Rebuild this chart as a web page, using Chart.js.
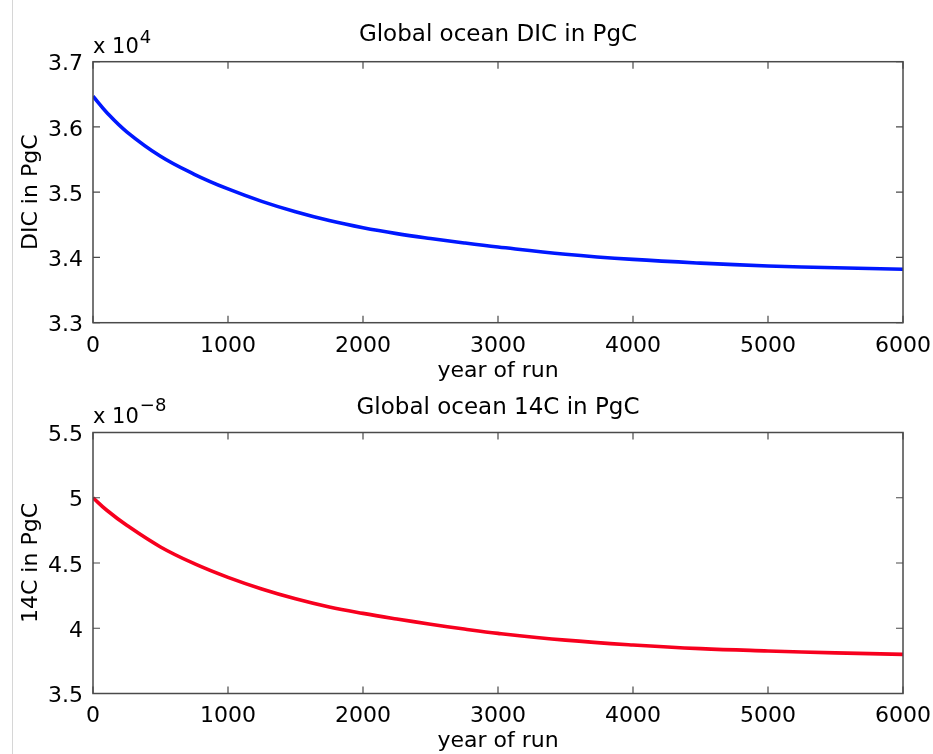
<!DOCTYPE html>
<html>
<head>
<meta charset="utf-8">
<script src="https://cdn.jsdelivr.net/npm/chart.js@4/dist/chart.umd.min.js"></script>
<style>
  html, body { margin:0; padding:0; background:#fff; }
  #wrap { position:relative; width:933px; height:754px; overflow:hidden; background:#fff; }
  #edge { position:absolute; left:12px; top:0; width:1px; height:754px; background:#d6d6d6; }
  .box { position:absolute; left:0; width:933px; }
</style>
</head>
<body>
<div id="wrap">
  <div id="edge"></div>
  <div class="box" style="top:0;height:384px"><canvas id="dic" width="933" height="384"></canvas></div>
  <div class="box" style="top:384px;height:370px"><canvas id="c14" width="933" height="370"></canvas></div>
</div>
<script>
// year of run
const YEARS = [0, 100, 250, 500, 750, 1000, 1250, 1500, 1750, 2000, 2250, 2500, 2750, 3000, 3500, 4000, 4500, 5000, 5500, 6000];
// global ocean DIC, units of 1e4 PgC
const DIC = [3.647, 3.6225, 3.5925, 3.555, 3.5275, 3.505, 3.486, 3.470, 3.4565, 3.4455, 3.4365, 3.429, 3.4222, 3.416, 3.405, 3.397, 3.3913, 3.387, 3.3841, 3.382];
// global ocean 14C, units of 1e-8 PgC
const C14 = [5.0, 4.906, 4.789, 4.623, 4.495, 4.390, 4.301, 4.226, 4.163, 4.114, 4.071, 4.031, 3.994, 3.961, 3.909, 3.872, 3.844, 3.826, 3.811, 3.800];
const X_TICK_STEP = 1000;

const FONT = "'DejaVu Sans'";
Chart.defaults.font.family = FONT;
Chart.defaults.color = '#000';

// MATLAB-ish box with inward ticks plus the "x 10^n" multiplier
const matlabAxes = {
  id: 'matlabAxes',
  afterDraw(chart, args, opts) {
    const { ctx, chartArea: a, scales: { x, y } } = chart;
    ctx.save();
    ctx.strokeStyle = '#4a4a4a';
    ctx.lineWidth = 1.5;
    ctx.strokeRect(a.left, a.top, a.right - a.left, a.bottom - a.top);
    ctx.lineWidth = 1.2;
    ctx.beginPath();
    x.ticks.forEach(t => {
      const px = x.getPixelForValue(t.value);
      ctx.moveTo(px, a.bottom); ctx.lineTo(px, a.bottom - 7);
      ctx.moveTo(px, a.top); ctx.lineTo(px, a.top + 7);
    });
    y.ticks.forEach(t => {
      const py = y.getPixelForValue(t.value);
      ctx.moveTo(a.left, py); ctx.lineTo(a.left + 7, py);
      ctx.moveTo(a.right, py); ctx.lineTo(a.right - 7, py);
    });
    ctx.stroke();

    ctx.fillStyle = '#000';
    ctx.textBaseline = 'alphabetic';
    ctx.font = '21px ' + FONT;
    ctx.fillText('x 10', a.left, a.top + opts.baseOff);
    const w = ctx.measureText('x 10').width;
    ctx.font = '18px ' + FONT;
    ctx.fillText(opts.exp, a.left + w + 1, a.top + opts.expOff);
    ctx.restore();
  }
};

function makeChart(id, o) {
  return new Chart(document.getElementById(id), {
    type: 'line',
    data: {
      datasets: [{
        data: YEARS.map((yr, i) => ({ x: yr, y: o.values[i] })),
        borderColor: o.color,
        borderWidth: 3.6,
        pointRadius: 0,
        tension: 0.4,
        fill: false
      }]
    },
    options: {
      responsive: false,
      animation: false,
      layout: { padding: { left: 0, right: 30, top: 0, bottom: 0 } },
      plugins: {
        legend: { display: false },
        tooltip: { enabled: false },
        title: {
          display: true,
          fullSize: false,
          text: o.title,
          color: '#000',
          font: { size: 23, weight: 'normal' },
          padding: o.titlePad
        },
        matlabAxes: o.mult
      },
      scales: {
        x: {
          type: 'linear',
          min: 0, max: 6000,
          grid: { display: false, drawTicks: false },
          border: { display: false },
          ticks: { stepSize: X_TICK_STEP, padding: 10, font: { size: 22 }, maxRotation: 0, callback: v => String(v) },
          title: { display: true, text: 'year of run', font: { size: 22 }, padding: { top: 0, bottom: 0 } },
          afterFit: s => { s.height = o.xHeight; s.paddingLeft = 0; s.paddingRight = 0; }
        },
        y: {
          min: o.yMin, max: o.yMax,
          grid: { display: false, drawTicks: false },
          border: { display: false },
          ticks: {
            stepSize: o.yStep, padding: 10, labelOffset: 3, font: { size: 22 },
            callback: v => String(+v.toFixed(1))
          },
          title: { display: true, text: o.yTitle, font: { size: 22 }, padding: { top: 18, bottom: 0 } },
          afterFit: s => { s.width = 93; s.paddingTop = 0; s.paddingBottom = 0; }
        }
      }
    },
    plugins: [matlabAxes]
  });
}

makeChart('dic', {
  values: DIC,
  color: '#0018ff',
  title: 'Global ocean DIC in PgC',
  titlePad: { top: 21, bottom: 13.1 },
  xHeight: 61.3,
  yMin: 3.3, yMax: 3.7, yStep: 0.1,
  yTitle: 'DIC in PgC',
  mult: { exp: '4', baseOff: -8.5, expOff: -19 }
});

makeChart('c14', {
  values: C14,
  color: '#f7001e',
  title: 'Global ocean 14C in PgC',
  titlePad: { top: 10.2, bottom: 10.7 },
  xHeight: 60.5,
  yMin: 3.5, yMax: 5.5, yStep: 0.5,
  yTitle: '14C in PgC',
  mult: { exp: '\u22128', baseOff: -9.5, expOff: -22 }
});
</script>
</body>
</html>
